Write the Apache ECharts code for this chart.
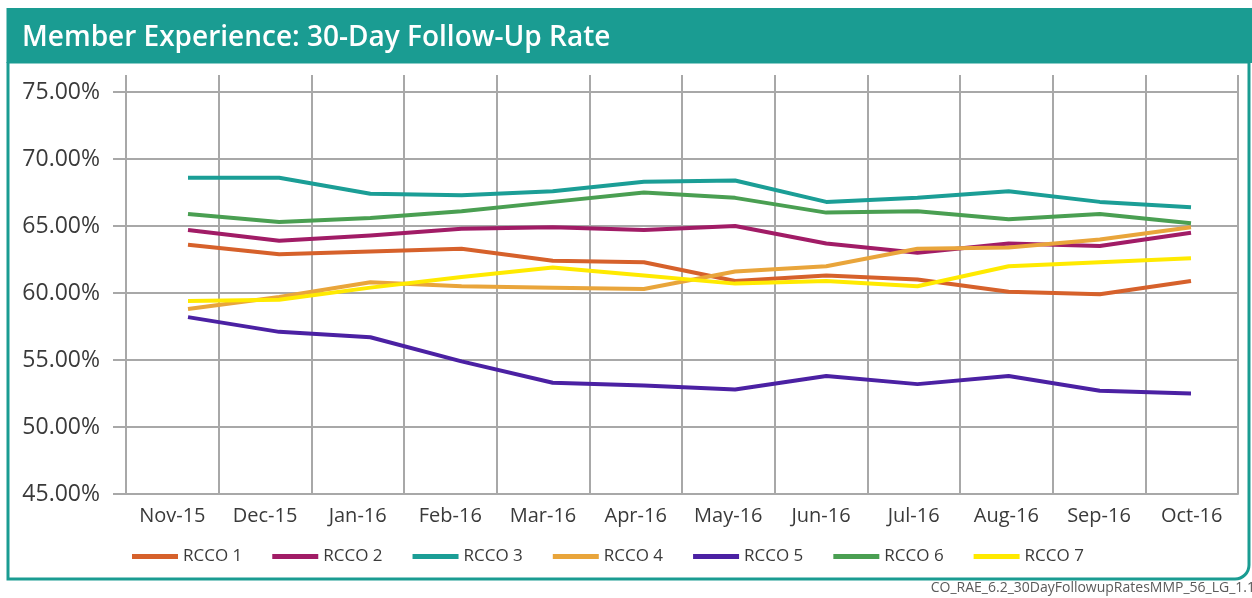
<!DOCTYPE html>
<html>
<head>
<meta charset="utf-8">
<title>Member Experience: 30-Day Follow-Up Rate</title>
<script src="https://cdn.jsdelivr.net/npm/echarts@6/dist/echarts.min.js"></script>
<style>
  html, body { margin: 0; padding: 0; background: #ffffff; }
  #chart { width: 1252px; height: 598px; }
</style>
</head>
<body>
<div id="chart"></div>
<script>
// Months on the category axis
const months = ['Nov-15', 'Dec-15', 'Jan-16', 'Feb-16', 'Mar-16', 'Apr-16',
                'May-16', 'Jun-16', 'Jul-16', 'Aug-16', 'Sep-16', 'Oct-16'];

// 30-day follow-up rate (%) per RCCO region
const rcco1 = [63.6, 62.9, 63.1, 63.3, 62.4, 62.3, 60.9, 61.3, 61.0, 60.1, 59.9, 60.9];
const rcco2 = [64.7, 63.9, 64.3, 64.8, 64.9, 64.7, 65.0, 63.7, 63.0, 63.7, 63.5, 64.5];
const rcco3 = [68.6, 68.6, 67.4, 67.3, 67.6, 68.3, 68.4, 66.8, 67.1, 67.6, 66.8, 66.4];
const rcco4 = [58.8, 59.7, 60.8, 60.5, 60.4, 60.3, 61.6, 62.0, 63.3, 63.4, 64.0, 64.9];
const rcco5 = [58.2, 57.1, 56.7, 54.9, 53.3, 53.1, 52.8, 53.8, 53.2, 53.8, 52.7, 52.5];
const rcco6 = [65.9, 65.3, 65.6, 66.1, 66.8, 67.5, 67.1, 66.0, 66.1, 65.5, 65.9, 65.2];
const rcco7 = [59.4, 59.5, 60.4, 61.2, 61.9, 61.3, 60.7, 60.9, 60.5, 62.0, 62.3, 62.6];

const seriesNames = ['RCCO 1', 'RCCO 2', 'RCCO 3', 'RCCO 4', 'RCCO 5', 'RCCO 6', 'RCCO 7'];
const seriesValues = [rcco1, rcco2, rcco3, rcco4, rcco5, rcco6, rcco7];
const seriesColors = ['#d6612b', '#a11c66', '#1b9e96', '#e9a53b', '#4b21a3', '#4a9f52', '#ffea00'];

// Value axis range and tick step
const yMin = 45, yMax = 75, yStep = 5;

const TEAL = '#1a9c92';
const GRID_GRAY = '#a8a8a8';
const TEXT = '#3a3a3a';
const FONT = '"Open Sans", "Noto Sans", sans-serif';

const chart = echarts.init(document.getElementById('chart'), null, { renderer: 'canvas' });

const option = {
  backgroundColor: '#ffffff',
  animation: false,
  textStyle: { fontFamily: FONT },
  graphic: [
    // white panel with teal border and rounded lower-right corner
    {
      type: 'rect', z: -10, silent: true,
      shape: { x: 8, y: 62, width: 1241, height: 517, r: [0, 0, 14, 0] },
      style: { fill: '#ffffff', stroke: TEAL, lineWidth: 3 }
    },
    // header band
    {
      type: 'rect', z: -9, silent: true,
      shape: { x: 6.5, y: 8, width: 1250, height: 55 },
      style: { fill: TEAL }
    },
    {
      type: 'text', z: 5, silent: true,
      left: 22, top: 24,
      style: {
        text: 'Member Experience: 30-Day Follow-Up Rate',
        fill: '#ffffff', font: '600 28px ' + FONT
      }
    },
    {
      type: 'text', z: 5, silent: true,
      right: -3, top: 581,
      style: {
        text: 'CO_RAE_6.2_30DayFollowupRatesMMP_56_LG_1.1',
        fill: '#5a5a5a', font: '14px ' + FONT
      }
    }
  ],
  legend: {
    data: seriesNames,
    left: 127, top: 543,
    icon: 'rect', itemWidth: 46, itemHeight: 5, itemGap: 30, itemTextGap: 5,
    textStyle: { color: TEXT, fontSize: 17, fontFamily: FONT }
  },
  grid: [
    // value labels, horizontal gridlines, month labels
    { left: 126, right: 14, top: 92, bottom: 104 },
    // vertical gridlines (reach a little higher than the top value line)
    { left: 126, right: 14, top: 75, bottom: 104 },
    // plotting area for the lines
    { left: 188, right: 61, top: 92, bottom: 104 }
  ],
  xAxis: [
    {
      gridIndex: 0, type: 'category', data: months, boundaryGap: true,
      axisLine: { show: true, lineStyle: { color: GRID_GRAY, width: 2 } },
      axisTick: { show: false },
      splitLine: { show: false },
      axisLabel: { interval: 0, color: TEXT, fontSize: 20, margin: 12, fontFamily: FONT }
    },
    {
      gridIndex: 1, type: 'category', data: months, boundaryGap: true,
      axisLine: { show: false }, axisTick: { show: false }, axisLabel: { show: false },
      splitLine: { show: true, interval: 0, lineStyle: { color: GRID_GRAY, width: 2 } }
    },
    {
      gridIndex: 2, type: 'category', data: months, boundaryGap: false, show: false
    }
  ],
  yAxis: [
    {
      gridIndex: 0, type: 'value', min: yMin, max: yMax, interval: yStep,
      axisLine: { show: false },
      axisTick: { show: true, length: 13, lineStyle: { color: GRID_GRAY, width: 2 } },
      splitLine: { show: true, lineStyle: { color: GRID_GRAY, width: 2 } },
      axisLabel: {
        color: TEXT, fontSize: 23, margin: 26, fontFamily: FONT,
        formatter: v => v.toFixed(2) + '%'
      }
    },
    {
      gridIndex: 1, type: 'value', show: false, min: 0, max: 1,
      splitLine: { show: false }
    },
    {
      gridIndex: 2, type: 'value', show: false, min: yMin, max: yMax,
      splitLine: { show: false }
    }
  ],
  series: seriesNames.map((name, i) => ({
    name: name,
    type: 'line',
    xAxisIndex: 2,
    yAxisIndex: 2,
    data: seriesValues[i],
    symbol: 'none',
    color: seriesColors[i],
    lineStyle: { width: 4, color: seriesColors[i], join: 'round' },
    z: 3
  }))
};

chart.setOption(option);
</script>
</body>
</html>
